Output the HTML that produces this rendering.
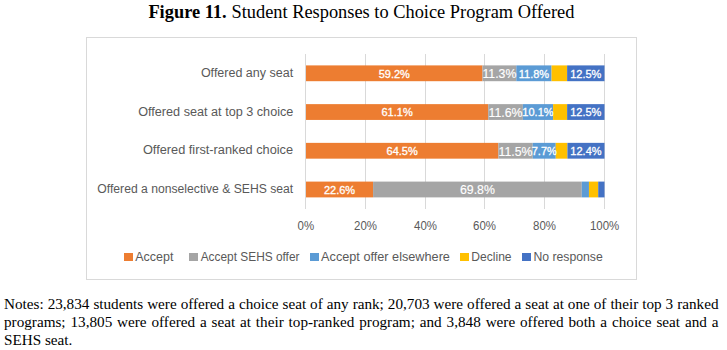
<!DOCTYPE html>
<html><head><meta charset="utf-8">
<style>
html,body{margin:0;padding:0;background:#fff;}
body{width:727px;height:350px;position:relative;overflow:hidden;}
.title{position:absolute;left:0;top:1px;width:727px;text-align:center;font-family:"Liberation Serif",serif;font-size:18.3px;line-height:22px;color:#000;white-space:nowrap;}
.title b{margin-right:2.5px;}
.notes{position:absolute;left:4px;top:295px;width:714.5px;font-family:"Liberation Serif",serif;font-size:15.2px;line-height:17.85px;color:#000;}
.notes div{text-align:justify;text-align-last:justify;white-space:nowrap;}
.notes div.l{text-align-last:left;}
svg{position:absolute;left:0;top:0;}
</style></head><body>
<svg width="727" height="350" viewBox="0 0 727 350" font-family="Liberation Sans, sans-serif">
<rect x="86.5" y="37.5" width="550" height="242" fill="#fff" stroke="#d9d9d9" stroke-width="1"/>
<g stroke="#d9d9d9" stroke-width="1">
<line x1="305.5" y1="54" x2="305.5" y2="209"/>
<line x1="365.5" y1="54" x2="365.5" y2="209"/>
<line x1="425.5" y1="54" x2="425.5" y2="209"/>
<line x1="484.5" y1="54" x2="484.5" y2="209"/>
<line x1="544.5" y1="54" x2="544.5" y2="209"/>
<line x1="604.5" y1="54" x2="604.5" y2="209"/>
</g>
<g font-family="Liberation Serif, serif"><text x="148.40" y="18" font-size="17.8" textLength="78.28" lengthAdjust="spacingAndGlyphs" fill="#000" font-weight="700">Figure 11.</text><text x="231.47" y="18" font-size="17.8" textLength="342.97" lengthAdjust="spacingAndGlyphs" fill="#000" >Student Responses to Choice Program Offered</text></g>
<rect x="306.00" y="65.40" width="176.51" height="15.8" fill="#ed7d31"/>
<rect x="482.51" y="65.40" width="33.79" height="15.8" fill="#a5a5a5"/>
<rect x="516.29" y="65.40" width="35.28" height="15.8" fill="#5b9bd5"/>
<rect x="551.58" y="65.40" width="15.55" height="15.8" fill="#ffc000"/>
<rect x="567.12" y="65.40" width="37.38" height="15.8" fill="#4472c4"/>
<rect x="306.00" y="104.13" width="182.19" height="15.8" fill="#ed7d31"/>
<rect x="488.19" y="104.13" width="34.68" height="15.8" fill="#a5a5a5"/>
<rect x="522.87" y="104.13" width="30.20" height="15.8" fill="#5b9bd5"/>
<rect x="553.07" y="104.13" width="14.05" height="15.8" fill="#ffc000"/>
<rect x="567.12" y="104.13" width="37.38" height="15.8" fill="#4472c4"/>
<rect x="306.00" y="142.86" width="192.36" height="15.8" fill="#ed7d31"/>
<rect x="498.36" y="142.86" width="34.38" height="15.8" fill="#a5a5a5"/>
<rect x="532.74" y="142.86" width="23.02" height="15.8" fill="#5b9bd5"/>
<rect x="555.76" y="142.86" width="11.66" height="15.8" fill="#ffc000"/>
<rect x="567.42" y="142.86" width="37.08" height="15.8" fill="#4472c4"/>
<rect x="306.00" y="181.59" width="67.07" height="15.8" fill="#ed7d31"/>
<rect x="373.07" y="181.59" width="208.70" height="15.8" fill="#a5a5a5"/>
<rect x="581.78" y="181.59" width="7.18" height="15.8" fill="#5b9bd5"/>
<rect x="588.95" y="181.59" width="9.27" height="15.8" fill="#ffc000"/>
<rect x="598.22" y="181.59" width="6.28" height="15.8" fill="#4472c4"/>
<g fill="#fff" stroke="#fff" stroke-width="0.3" text-anchor="middle">
<text x="394.25" y="77.70" font-size="11">59.2%</text>
<text x="499.40" y="78.30" font-size="12.3" stroke-width="0.15">11.3%</text>
<text x="533.94" y="77.70" font-size="11">11.8%</text>
<text x="585.81" y="77.70" font-size="11">12.5%</text>
<text x="397.09" y="116.43" font-size="11">61.1%</text>
<text x="505.53" y="117.03" font-size="12.3" stroke-width="0.15">11.6%</text>
<text x="537.97" y="116.43" font-size="11">10.1%</text>
<text x="585.81" y="116.43" font-size="11">12.5%</text>
<text x="402.18" y="155.16" font-size="11">64.5%</text>
<text x="515.55" y="155.76" font-size="12.3" stroke-width="0.15">11.5%</text>
<text x="544.25" y="155.16" font-size="11">7.7%</text>
<text x="585.96" y="155.16" font-size="11">12.4%</text>
<text x="339.54" y="193.89" font-size="11">22.6%</text>
<text x="477.43" y="194.49" font-size="12.3" stroke-width="0.15">69.8%</text>
</g>
<text x="200.90" y="76.6" font-size="12.5" textLength="92.29" lengthAdjust="spacingAndGlyphs" fill="#595959">Offered any seat</text>
<text x="138.20" y="115.6" font-size="12.5" textLength="155.15" lengthAdjust="spacingAndGlyphs" fill="#595959">Offered seat at top 3 choice</text>
<text x="142.90" y="154.4" font-size="12.5" textLength="150.16" lengthAdjust="spacingAndGlyphs" fill="#595959">Offered first-ranked choice</text>
<text x="97.30" y="192.6" font-size="12.5" textLength="195.97" lengthAdjust="spacingAndGlyphs" fill="#595959">Offered a nonselective &amp; SEHS seat</text>
<g fill="#595959" font-size="12" text-anchor="middle"><text x="305.8" y="230" textLength="16.56" lengthAdjust="spacingAndGlyphs">0%</text><text x="365.5" y="230" textLength="22.95" lengthAdjust="spacingAndGlyphs">20%</text><text x="425.5" y="230" textLength="22.95" lengthAdjust="spacingAndGlyphs">40%</text><text x="484.5" y="230" textLength="22.95" lengthAdjust="spacingAndGlyphs">60%</text><text x="544.5" y="230" textLength="22.95" lengthAdjust="spacingAndGlyphs">80%</text><text x="604.6" y="230" textLength="29.32" lengthAdjust="spacingAndGlyphs">100%</text></g>
<rect x="124" y="253" width="9" height="8" fill="#ed7d31"/>
<rect x="189" y="253" width="9" height="8" fill="#a5a5a5"/>
<rect x="310" y="253" width="9" height="8" fill="#5b9bd5"/>
<rect x="460" y="253" width="9" height="8" fill="#ffc000"/>
<rect x="522" y="253" width="9" height="8" fill="#4472c4"/>
<text x="135.30" y="261" font-size="12.5" textLength="38.12" lengthAdjust="spacingAndGlyphs" fill="#595959">Accept</text>
<text x="200.70" y="261" font-size="12.5" textLength="98.80" lengthAdjust="spacingAndGlyphs" fill="#595959">Accept SEHS offer</text>
<text x="321.10" y="261" font-size="12.5" textLength="128.84" lengthAdjust="spacingAndGlyphs" fill="#595959">Accept offer elsewhere</text>
<text x="471.33" y="261" font-size="12.5" textLength="40.26" lengthAdjust="spacingAndGlyphs" fill="#595959">Decline</text>
<text x="533.42" y="261" font-size="12.5" textLength="69.36" lengthAdjust="spacingAndGlyphs" fill="#595959">No response</text>
</svg>
<div class="notes"><div>Notes: 23,834 students were offered a choice seat of any rank; 20,703 were offered a seat at one of their top 3 ranked</div><div>programs; 13,805 were offered a seat at their top-ranked program; and 3,848 were offered both a choice seat and a</div><div class="l">SEHS seat.</div></div>
</body></html>
